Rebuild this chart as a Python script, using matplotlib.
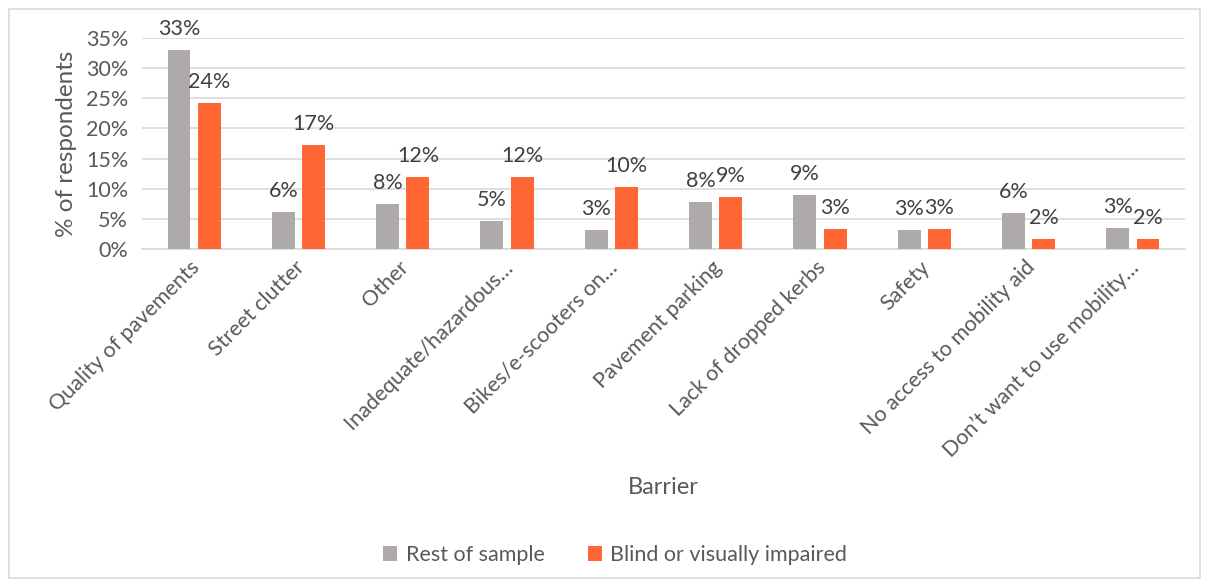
import matplotlib
matplotlib.use("Agg")
import matplotlib.pyplot as plt
import numpy as np
from matplotlib.patches import Rectangle

plt.rcParams['font.family'] = ['Lato', 'DejaVu Sans']

# data
barriers = ["Quality of pavements", "Street clutter", "Other",
            "Inadequate/hazardous\u2026", "Bikes/e-scooters on\u2026",
            "Pavement parking", "Lack of dropped kerbs", "Safety",
            "No access to mobility aid", "Don\u2019t want to use mobility\u2026"]
rest = [33.0, 6.1, 7.5, 4.6, 3.2, 7.8, 9.0, 3.2, 6.0, 3.5]
blind = [24.2, 17.2, 12.0, 12.0, 10.3, 8.6, 3.4, 3.4, 1.7, 1.7]
rest_labels = ["33%", "6%", "8%", "5%", "3%", "8%", "9%", "3%", "6%", "3%"]
blind_labels = ["24%", "17%", "12%", "12%", "10%", "9%", "3%", "3%", "2%", "2%"]
yticks = [0, 5, 10, 15, 20, 25, 30, 35]

grey = "#ADAAA9"
orange = "#FF6633"
txt = "#595959"
fs = 15.5

fig = plt.figure(figsize=(12.09, 5.85), dpi=100)
fig.patches.append(Rectangle((9/1209, 7/585), 1191/1209, 569/585, transform=fig.transFigure,
                             fill=False, edgecolor="#D9D9D9", linewidth=1.2))
ax = fig.add_axes([142/1209, 1-249/585, (1185-142)/1209, (249-38)/585])

x = np.arange(len(barriers))
w = 0.22
off = 0.145
b1 = ax.bar(x - off, rest, w, color=grey, label="Rest of sample", zorder=3)
b2 = ax.bar(x + off, blind, w, color=orange, label="Blind or visually impaired", zorder=3)

for xi, v, s in zip(x - off, rest, rest_labels):
    ax.text(xi, v + 1.8, s, ha="center", va="bottom", fontsize=fs, color="#404040", clip_on=False)
for xi, v, s in zip(x + off, blind, blind_labels):
    ax.text(xi, v + 1.8, s, ha="center", va="bottom", fontsize=fs, color="#404040", clip_on=False)

ax.set_xlim(-0.5, len(barriers) - 0.5)
ax.set_ylim(0, 35)
ax.set_yticks(yticks)
ax.set_yticklabels([f"{t}%" for t in yticks], fontsize=fs, color=txt)
ax.yaxis.grid(True, color="#D9D9D9", linewidth=1.2, zorder=0)
ax.set_axisbelow(True)
ax.tick_params(axis="both", length=0)
ax.tick_params(axis="y", pad=10)
for sp in ["top", "right", "left"]:
    ax.spines[sp].set_visible(False)
ax.spines["bottom"].set_color("#D9D9D9")
ax.spines["bottom"].set_linewidth(1.2)

ax.set_xticks(x - 0.04)
ax.set_xticklabels(barriers, rotation=45, ha="right", rotation_mode="anchor",
                   fontsize=fs, color=txt)
ax.tick_params(axis="x", pad=6)

ax.set_ylabel("% of respondents", fontsize=17.5, color=txt, labelpad=6)
fig.text(663/1209, 1-488/585, "Barrier", ha="center", va="center", fontsize=17, color=txt)

fig.legend(handles=[b1, b2], loc="center", bbox_to_anchor=(615/1209, 1-555/585), ncol=2,
           frameon=False, fontsize=fs, handlelength=0.65, handleheight=0.65,
           columnspacing=2.0, handletextpad=0.4, labelcolor=txt)

fig.savefig("out.png", dpi=100)
